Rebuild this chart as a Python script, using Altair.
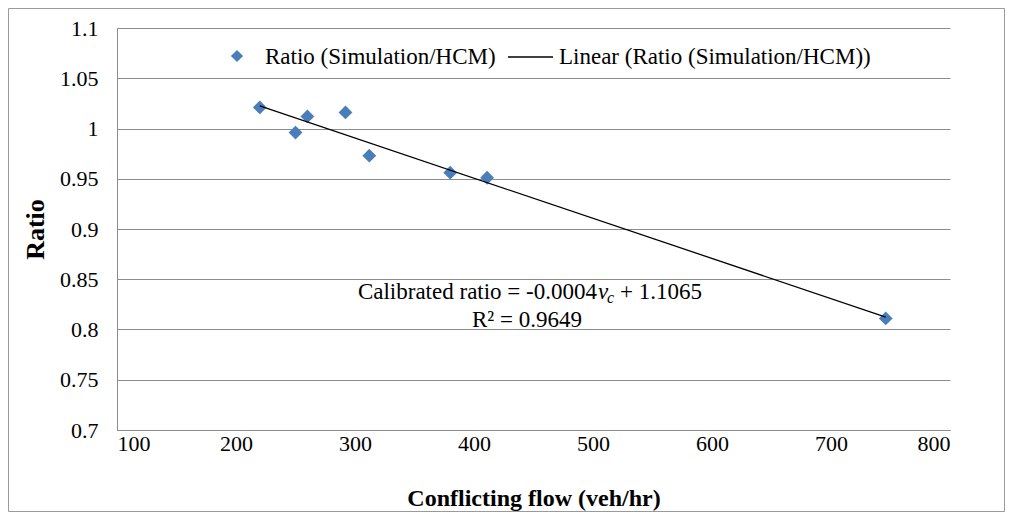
import altair as alt
import pandas as pd

flow = [220, 250, 260, 292, 312, 380, 411, 746]
ratio = [1.021, 0.996, 1.012, 1.016, 0.973, 0.956, 0.951, 0.811]

series_point = "Ratio (Simulation/HCM)"
series_line = "Linear (Ratio (Simulation/HCM))"
eq_main = "Calibrated ratio = -0.0004"
eq_var = "v"
eq_sub = "c"
eq_tail = "+ 1.1065"
r2_text = "R\u00b2 = 0.9649"

x_title = "Conflicting flow (veh/hr)"
y_title = "Ratio"

df = pd.DataFrame({"flow": flow, "ratio": ratio})

FONT = "Times New Roman, Liberation Serif, serif"
W, H = 833, 402
BLUE = "#4A7EBB"
GRID = "#8C8C8C"
TXT = 23

base = alt.Chart(df)

xenc = alt.X("flow:Q", scale=alt.Scale(domain=[100, 800], nice=False),
             axis=alt.Axis(values=[100, 200, 300, 400, 500, 600, 700, 800],
                           title=x_title, grid=False, ticks=False,
                           domainColor=GRID, labelPadding=3,
                           labelFont=FONT, labelFontSize=22, labelColor="black",
                           titleFont=FONT, titleFontSize=24, titleFontWeight="bold",
                           titleY=68, titleBaseline="middle", titleColor="black"))
yenc = alt.Y("ratio:Q", scale=alt.Scale(domain=[0.7, 1.1], nice=False, zero=False),
             axis=alt.Axis(values=[0.7, 0.75, 0.8, 0.85, 0.9, 0.95, 1.0, 1.05, 1.1],
                           format=".2~f",
                           title=y_title, grid=True, gridColor=GRID, ticks=False,
                           domainColor=GRID, labelPadding=19,
                           labelFont=FONT, labelFontSize=22, labelColor="black",
                           titleFont=FONT, titleFontSize=26, titleFontWeight="bold",
                           titleAngle=-90, titleX=-82, titleY=H / 2,
                           titleAlign="center", titleBaseline="middle", titleColor="black"))

points = base.mark_point(shape="diamond", filled=True, size=190, color=BLUE, opacity=1).encode(
    x=xenc, y=yenc)

trend = base.transform_regression("flow", "ratio").mark_line(color="black", strokeWidth=1.3).encode(
    x="flow:Q", y="ratio:Q")

# legend
leg_pt = alt.Chart(pd.DataFrame({"s": [series_point]})).mark_point(
    shape="diamond", filled=True, size=150, color=BLUE, opacity=1).encode(
    x=alt.value(120), y=alt.value(28))
leg_t1 = alt.Chart(pd.DataFrame({"s": [series_point]})).mark_text(
    font=FONT, fontSize=TXT, align="left", baseline="middle", color="black").encode(
    x=alt.value(148), y=alt.value(29), text="s:N")
leg_ln = alt.Chart(pd.DataFrame({"s": [series_line]})).mark_rule(color="black", strokeWidth=1.3).encode(
    x=alt.value(391), x2=alt.value(436), y=alt.value(29))
leg_t2 = alt.Chart(pd.DataFrame({"s": [series_line]})).mark_text(
    font=FONT, fontSize=TXT, align="left", baseline="middle", color="black").encode(
    x=alt.value(442), y=alt.value(29), text="s:N")

# equation annotation
a1 = alt.Chart(pd.DataFrame({"t": [eq_main]})).mark_text(
    font=FONT, fontSize=TXT, align="right", baseline="middle", color="black").encode(
    x=alt.value(480), y=alt.value(264), text="t:N")
a2 = alt.Chart(pd.DataFrame({"t": [eq_var]})).mark_text(
    font=FONT, fontSize=TXT, fontStyle="italic", align="left", baseline="middle", color="black").encode(
    x=alt.value(481), y=alt.value(264), text="t:N")
a3 = alt.Chart(pd.DataFrame({"t": [eq_sub]})).mark_text(
    font=FONT, fontSize=16, fontStyle="italic", align="left", baseline="middle", color="black").encode(
    x=alt.value(490), y=alt.value(270), text="t:N")
a4 = alt.Chart(pd.DataFrame({"t": [eq_tail]})).mark_text(
    font=FONT, fontSize=TXT, align="left", baseline="middle", color="black").encode(
    x=alt.value(503), y=alt.value(264), text="t:N")
a5 = alt.Chart(pd.DataFrame({"t": [r2_text]})).mark_text(
    font=FONT, fontSize=TXT, align="center", baseline="middle", color="black").encode(
    x=alt.value(410), y=alt.value(292), text="t:N")

# outer frame
frame = alt.Chart(pd.DataFrame({"k": [0]})).mark_rect(
    fill=None, stroke="#9A9A9A", strokeWidth=1).encode(
    x=alt.value(-108.5), x2=alt.value(887.5), y=alt.value(-19.5), y2=alt.value(483.5))

chart = alt.layer(points, trend, leg_pt, leg_t1, leg_ln, leg_t2, a1, a2, a3, a4, a5, frame).properties(
    width=W, height=H,
    autosize=alt.AutoSizeParams(type="none"),
    padding={"left": 109, "top": 20, "right": 56, "bottom": 83},
    background="white",
).configure_view(stroke=None)

chart.save("out.html", embed_options={"renderer": "svg", "actions": False})
